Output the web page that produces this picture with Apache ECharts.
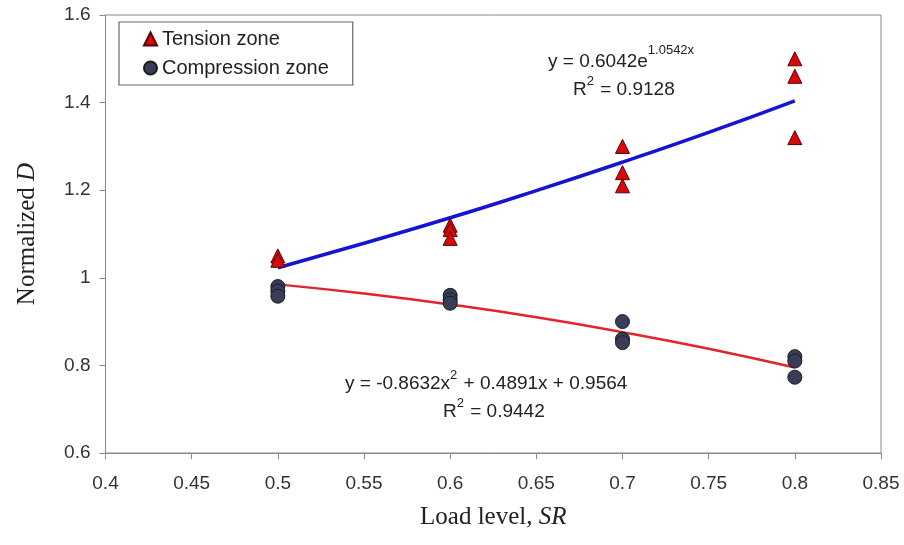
<!DOCTYPE html>
<html>
<head>
<meta charset="utf-8">
<script src="https://cdn.jsdelivr.net/npm/echarts@6/dist/echarts.min.js"></script>
<style>html,body{margin:0;padding:0;background:#fff}#c{width:904px;height:545px}</style>
</head>
<body>
<div id="c"></div>
<script>
// Data
const loadLevels = [0.5, 0.6, 0.7, 0.8];
const tensionValues = [
  [1.05, 1.04],
  [1.12, 1.11, 1.09],
  [1.30, 1.24, 1.21],
  [1.50, 1.46, 1.32]
];
const compressionValues = [
  [0.98, 0.97, 0.958],
  [0.96, 0.95, 0.942],
  [0.90, 0.86, 0.852],
  [0.82, 0.81, 0.773]
];
// Trendline points
const trendX = [0.5, 0.55, 0.6, 0.65, 0.7, 0.75, 0.8];
const tensionTrend = [1.023, 1.079, 1.137, 1.199, 1.264, 1.332, 1.404];
const compressionTrend = [0.985, 0.964, 0.939, 0.910, 0.876, 0.838, 0.795];
// Text of the trendline labels (main text / superscript pieces)
const eqTension = [['y = 0.6042e', false], ['1.0542x', true]];
const r2Tension = [['R', false], ['2', true], [' = 0.9128', false]];
const eqCompression = [['y = -0.8632x', false], ['2', true], [' + 0.4891x + 0.9564', false]];
const r2Compression = [['R', false], ['2', true], [' = 0.9442', false]];

function pairs(xs, groups) {
  const out = [];
  xs.forEach((x, i) => groups[i].forEach(v => out.push([x, v])));
  return out;
}
function zip(xs, ys) { return xs.map((x, i) => [x, ys[i]]); }

const SANS = 'Liberation Sans, Arial, sans-serif';
const SERIF = 'Liberation Serif, Times New Roman, serif';
const MAIN = 19, SUP = 13;
const ctx = document.createElement('canvas').getContext('2d');
function measure(t, size) { ctx.font = size + 'px ' + SANS; return ctx.measureText(t).width; }
function eqGraphics(parts, left, cy, raise) {
  const out = [];
  let x = left;
  parts.forEach(([t, sup]) => {
    const size = sup ? SUP : MAIN;
    out.push({
      type: 'text', x: x, y: sup ? cy - raise : cy, silent: true,
      style: {text: t, fontFamily: SANS, fontSize: size, fill: '#222', verticalAlign: 'middle', align: 'left'}
    });
    x += measure(t, size) + (sup ? 1 : 0);
  });
  return out;
}

const chart = echarts.init(document.getElementById('c'), null, {renderer: 'canvas'});
const axisFont = {fontFamily: SANS, fontSize: 19, color: '#333'};
const nameStyle = {fontFamily: SERIF, fontSize: 25, color: '#222',
  rich: {i: {fontFamily: SERIF, fontSize: 25, fontStyle: 'italic', color: '#222'}}};

chart.setOption({
  backgroundColor: '#fff',
  animation: false,
  grid: {left: 105.5, right: 23, top: 15, bottom: 92, show: true, borderColor: '#8a8a8a', borderWidth: 1},
  legend: {
    orient: 'vertical', left: 119, top: 22,
    data: [{name: 'Tension zone', icon: 'triangle'}, {name: 'Compression zone', icon: 'circle'}],
    itemWidth: 13, itemHeight: 13, itemGap: 9,
    padding: [7, 24, 7, 24],
    borderColor: '#666', borderWidth: 1.2,
    textStyle: {fontFamily: SANS, fontSize: 20, color: '#222'}
  },
  xAxis: {
    type: 'value', min: 0.4, max: 0.85, interval: 0.05,
    axisLine: {show: true, lineStyle: {color: '#8a8a8a'}},
    axisTick: {show: true, length: 6, lineStyle: {color: '#8a8a8a'}},
    splitLine: {show: false},
    axisLabel: Object.assign({margin: 21, formatter: v => String(+v.toFixed(2))}, axisFont),
    name: 'Load level, {i|SR}', nameLocation: 'middle', nameGap: 52,
    nameTextStyle: nameStyle
  },
  yAxis: {
    type: 'value', min: 0.6, max: 1.6, interval: 0.2,
    axisLine: {show: true, lineStyle: {color: '#8a8a8a'}},
    axisTick: {show: true, length: 6, lineStyle: {color: '#8a8a8a'}},
    splitLine: {show: false},
    axisLabel: Object.assign({margin: 15, formatter: v => String(+v.toFixed(1))}, axisFont),
    name: 'Normalized {i|D}', nameLocation: 'middle', nameGap: 66,
    nameTextStyle: nameStyle
  },
  series: [
    {
      name: 'tensionTrend', type: 'line', data: zip(trendX, tensionTrend), smooth: true,
      symbol: 'none', lineStyle: {color: '#1414d2', width: 3.5}, z: 1
    },
    {
      name: 'compressionTrend', type: 'line', data: zip(trendX, compressionTrend), smooth: true,
      symbol: 'none', lineStyle: {color: '#e0262c', width: 2.5}, z: 1
    },
    {
      name: 'Tension zone', type: 'scatter', data: pairs(loadLevels, tensionValues),
      symbol: 'triangle', symbolSize: 14,
      itemStyle: {color: '#d60a0a', borderColor: '#5a0000', borderWidth: 1, opacity: 1}, z: 3
    },
    {
      name: 'Compression zone', type: 'scatter', data: pairs(loadLevels, compressionValues),
      symbol: 'circle', symbolSize: 14,
      itemStyle: {color: '#3a3c58', borderColor: '#1a1a22', borderWidth: 1, opacity: 1}, z: 3
    }
  ],
  graphic: [].concat(
    eqGraphics(eqTension, 548, 62, 12),
    eqGraphics(r2Tension, 573, 90, 9),
    eqGraphics(eqCompression, 345, 384, 9),
    eqGraphics(r2Compression, 443, 412, 9)
  )
});
</script>
</body>
</html>
